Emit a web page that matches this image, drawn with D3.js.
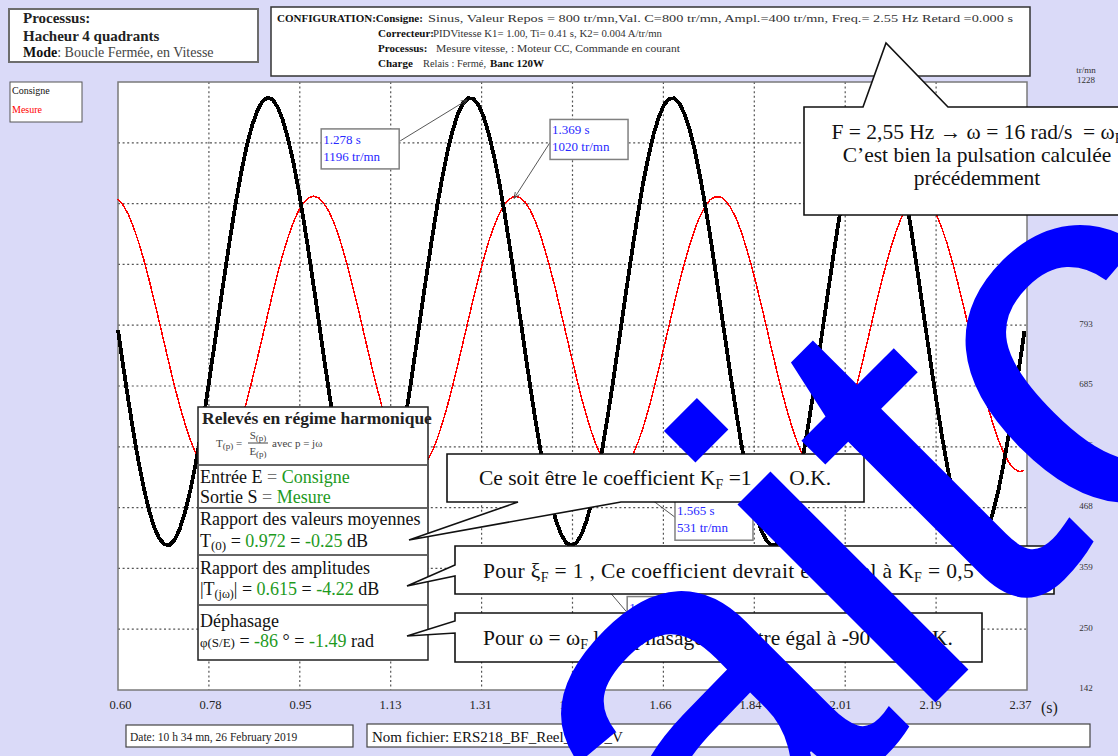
<!DOCTYPE html>
<html><head><meta charset="utf-8">
<script src="https://cdn.jsdelivr.net/npm/d3@7"></script>
<style>
body{margin:0;background:#dadaf8;}
svg{display:block;font-family:"Liberation Serif","Times New Roman",serif;}
</style></head><body>
<svg id="chart" width="1118" height="756"></svg>
<script>
// Sample clock of the acquisition (s)
const sampleStart = 0.60, sampleStep = 0.01;

// Consigne (set-point speed, tr/mn), one value per sample
const consigne = [785,721,660,602,549,503,464,433,413,402,
401,410,430,459,497,542,594,651,713,776,
840,903,963,1019,1070,1114,1149,1176,1193,1200,
1197,1183,1160,1127,1087,1038,984,925,863,799,
735,673,614,560,512,472,439,416,403,400,
407,425,452,488,531,582,638,699,762,826,
889,950,1008,1059,1105,1142,1171,1190,1199,1198,
1187,1166,1135,1096,1050,997,938,877,813,749,
687,627,572,522,480,446,421,405,400,405,
420,445,479,521,570,626,685,748,812,875,
937,995,1049,1095,1135,1165,1187,1198,1199,1190,
1171,1143,1106,1060,1009,952,891,827,763,700,
640,583,532,488,452,425,408,400,403,416,
439,471,511,559,613,672,734,798,861,924,
983,1037,1085,1127,1159,1183,1196,1200,1193,1176,
1150,1114,1071,1021,965,904,841,777,714,653,
595,543,497,460,430,411,401,402,412,433,
463,501,548,601,658,720,783];

// Mesure (measured speed, tr/mn)
const mesure = [1019,1008,992,969,942,911,876,839,800,761,
722,684,649,618,590,567,549,538,532,533,
540,554,572,597,626,658,694,732,771,810,
849,886,920,950,976,997,1012,1021,1024,1021,
1011,996,975,949,918,884,847,809,769,730,
692,657,624,596,572,553,540,533,533,538,
550,568,591,619,651,686,724,763,802,841,
878,912,944,970,992,1009,1019,1024,1022,1014,
1000,980,955,925,892,856,817,778,739,701,
664,631,601,576,557,542,534,532,536,547,
563,585,612,643,678,715,754,793,832,870,
905,937,965,988,1006,1018,1023,1023,1016,1003,
985,961,932,900,864,826,787,747,709,672,
638,608,582,560,545,535,532,535,544,559,
580,606,636,670,707,745,784,824,862,897,
930,959,983,1002,1016,1023,1024,1018,1007,989,
966,939,907,872,834,796,756,717,680,645,
614,587,565,548,537,532,534];

// Axes
const timeTicks = [0.60,0.7765,0.953,1.1295,1.306,1.4825,1.659,1.8355,2.012,2.1885,2.365];
const timeTickLabels = ["0.60","0.78","0.95","1.13","1.31","1.48","1.66","1.84","2.01","2.19","2.37"];
const speedTicks = [142,250.6,359.2,467.8,576.4,685,793.6,902.2,1010.8,1119.4,1228];
const speedTickLabels = ["142","250","359","468","576","685","793","902","1011","1119","1228"];

// Cursor readouts (time s, speed tr/mn)
const cursorTimes = [1.278, 1.369, 1.565, 1.478];
const cursorSpeeds = [1196, 1020, 531, 400];

const svg = d3.select("#chart");
const GREEN = "#1e9a1e";

const x = d3.scaleLinear().domain([0.60, 2.365]).range([118, 1027]);
const xLab = d3.scaleLinear().domain([0.60, 2.365]).range([120, 1020]);
const y = d3.scaleLinear().domain([142, 1228]).range([690, 82]);

// helper: text made of styled runs (with subscripts)
function rich(g, px, py, parts, o = {}) {
  const t = g.append("text").attr("x", px).attr("y", py)
    .attr("font-size", o.size || 14).attr("fill", o.fill || "#111")
    .attr("text-anchor", o.anchor || "start");
  if (o.weight) t.attr("font-weight", o.weight);
  if (o.spacing) t.attr("letter-spacing", o.spacing);
  let shift = 0;
  parts.forEach(p => {
    const s = t.append("tspan").text(p.t);
    const target = p.sub || 0;
    if (target !== shift) s.attr("dy", target - shift);
    shift = target;
    if (p.fill) s.attr("fill", p.fill);
    if (p.bold) s.attr("font-weight", "bold");
    if (p.size) s.attr("font-size", p.size);
  });
  return t;
}
// plain text squeezed/stretched to a given width
function fitted(g, px, py, str, width, size, fill) {
  return g.append("text").attr("x", px).attr("y", py).attr("font-size", size)
    .attr("fill", fill || "#333").attr("textLength", width).attr("lengthAdjust", "spacingAndGlyphs").text(str);
}

// ---------- header boxes ----------
svg.append("rect").attr("x", 9).attr("y", 9).attr("width", 249).attr("height", 53)
  .attr("fill", "#fff").attr("stroke", "#6d6d6d").attr("stroke-width", 2);
svg.append("text").attr("x", 23).attr("y", 23).attr("font-size", 15).attr("font-weight", "bold").attr("fill", "#222").text("Processus:");
svg.append("text").attr("x", 23).attr("y", 41).attr("font-size", 15).attr("font-weight", "bold").attr("fill", "#222").text("Hacheur 4 quadrants");
rich(svg, 23, 57, [{t: "Mode", bold: true}, {t: ": Boucle Fermée, en Vitesse", fill: "#444"}], {size: 14});

svg.append("rect").attr("x", 271).attr("y", 7).attr("width", 759).attr("height", 69)
  .attr("fill", "#fff").attr("stroke", "#333").attr("stroke-width", 1.5);
const cfg = svg.append("g");
cfg.append("text").attr("x", 277).attr("y", 22).attr("font-size", 11).attr("font-weight", "bold").attr("fill", "#111")
  .text("CONFIGURATION:Consigne:");
fitted(cfg, 428, 22, "Sinus, Valeur Repos = 800 tr/mn,Val. C=800 tr/mn, Ampl.=400 tr/mn, Freq.= 2.55 Hz Retard =0.000 s", 585, 11);
cfg.append("text").attr("x", 378).attr("y", 37).attr("font-size", 11).attr("font-weight", "bold").attr("fill", "#111").text("Correcteur:");
fitted(cfg, 433, 37, "PIDVitesse K1= 1.00, Ti= 0.41 s, K2= 0.004 A/tr/mn", 229, 11);
cfg.append("text").attr("x", 378).attr("y", 52).attr("font-size", 11).attr("font-weight", "bold").attr("fill", "#111").text("Processus:");
fitted(cfg, 436, 52, "Mesure vitesse, : Moteur CC, Commande en courant", 244, 11);
cfg.append("text").attr("x", 378).attr("y", 67).attr("font-size", 11).attr("font-weight", "bold").attr("fill", "#111").text("Charge");
fitted(cfg, 423, 67, "Relais : Fermé,", 63, 11);
cfg.append("text").attr("x", 490).attr("y", 67).attr("font-size", 11).attr("font-weight", "bold").attr("fill", "#111").text("Banc 120W");

// legend
svg.append("rect").attr("x", 10).attr("y", 82).attr("width", 72).attr("height", 40)
  .attr("fill", "#fff").attr("stroke", "#555").attr("stroke-width", 1);
svg.append("text").attr("x", 12).attr("y", 94).attr("font-size", 10).attr("fill", "#111").text("Consigne");
svg.append("text").attr("x", 12).attr("y", 113).attr("font-size", 10).attr("fill", "#f00").text("Mesure");

// ---------- plot area ----------
svg.append("rect").attr("x", 118).attr("y", 82).attr("width", 909).attr("height", 608)
  .attr("fill", "#fff");

const grid = svg.append("g").attr("stroke", "#555").attr("stroke-width", 1.2).attr("stroke-dasharray", "2,2.6");
grid.selectAll(".gv").data(timeTicks.slice(1, -1)).join("line")
  .attr("x1", d => x(d)).attr("x2", d => x(d)).attr("y1", 82).attr("y2", 690);
grid.selectAll(".gh").data(speedTicks.slice(1, -1)).join("line")
  .attr("y1", d => y(d)).attr("y2", d => y(d)).attr("x1", 118).attr("x2", 1027);

svg.append("rect").attr("x", 118).attr("y", 82).attr("width", 909).attr("height", 608)
  .attr("fill", "none").attr("stroke", "#7a7a7a").attr("stroke-width", 1.5);

const line = d3.line()
  .x((d, i) => x(sampleStart + i * sampleStep))
  .y(d => y(d));

svg.append("path").datum(mesure).attr("d", line)
  .attr("fill", "none").attr("stroke", "#ff0000").attr("stroke-width", 1.5)
  .attr("shape-rendering", "crispEdges");
svg.append("path").datum(consigne).attr("d", line)
  .attr("fill", "none").attr("stroke", "#000").attr("stroke-width", 3.8)
  .attr("stroke-linejoin", "round").attr("shape-rendering", "crispEdges");

// axis labels
const xAxis = d3.axisBottom(xLab).tickValues(timeTicks)
  .tickFormat((d, i) => timeTickLabels[i]).tickSize(0).tickPadding(0);
const gx = svg.append("g").attr("transform", "translate(0,700)").call(xAxis);
gx.select(".domain").remove();
gx.selectAll("text").attr("font-family", "Liberation Serif").attr("font-size", 12.5).attr("fill", "#222");
svg.append("text").attr("x", 1041).attr("y", 713).attr("font-size", 16).attr("fill", "#222").text("(s)");

const yAxis = d3.axisRight(y).tickValues(speedTicks)
  .tickFormat((d, i) => speedTickLabels[i]).tickSize(0).tickPadding(0);
const gy = svg.append("g").attr("transform", "translate(1086,0)").call(yAxis);
gy.select(".domain").remove();
gy.selectAll("text").attr("font-family", "Liberation Serif").attr("font-size", 9)
  .attr("fill", "#333").attr("text-anchor", "middle").attr("dy", "0.1em");
svg.append("text").attr("x", 1086).attr("y", 73).attr("font-size", 9).attr("fill", "#333")
  .attr("text-anchor", "middle").text("tr/mn");

// ---------- cursor readouts ----------
svg.append("defs").append("marker").attr("id", "arr").attr("viewBox", "0 0 10 10")
  .attr("refX", 10).attr("refY", 5).attr("markerWidth", 7).attr("markerHeight", 7)
  .attr("orient", "auto").append("path").attr("d", "M0,1L10,5L0,9").attr("fill", "none")
  .attr("stroke", "#444").attr("stroke-width", 1.3);

const boxOffsets = [[-146, 29, 79, 12], [36, -79, 0, 23], [60, 28, 0, 17], [57, 51, 0, 16]];
cursorTimes.forEach((t, i) => {
  const px = x(t), py = y(cursorSpeeds[i]);
  const [dx, dy, ax, ay] = boxOffsets[i];
  const bx = px + dx, by = py + dy;
  svg.append("line").attr("x1", bx + ax).attr("y1", by + ay).attr("x2", px).attr("y2", py)
    .attr("stroke", "#444").attr("stroke-width", 0.9).attr("marker-end", "url(#arr)");
  svg.append("rect").attr("x", bx).attr("y", by).attr("width", 78).attr("height", 40)
    .attr("fill", "#fff").attr("stroke", "#808080").attr("stroke-width", 1.5);
  svg.append("text").attr("x", bx + 2).attr("y", by + 15).attr("font-size", 13).attr("fill", "#2828ff")
    .text(t.toFixed(3) + " s");
  svg.append("text").attr("x", bx + 2).attr("y", by + 32).attr("font-size", 13).attr("fill", "#2828ff")
    .text(cursorSpeeds[i] + " tr/mn");
});

// ---------- harmonic-regime table ----------
const tb = svg.append("g");
tb.append("rect").attr("x", 198).attr("y", 407).attr("width", 230).attr("height", 253)
  .attr("fill", "#fff").attr("stroke", "#222").attr("stroke-width", 1.5);
[465, 508, 555, 605].forEach(v => tb.append("line").attr("x1", 199).attr("x2", 427)
  .attr("y1", v).attr("y2", v).attr("stroke", "#666").attr("stroke-width", 2.2));
tb.append("text").attr("x", 202).attr("y", 424).attr("font-size", 17.5).attr("font-weight", "bold")
  .attr("fill", "#222").text("Relevés en régime harmonique");
rich(tb, 216, 447, [{t: "T"}, {t: "(p)", sub: 2, size: 9}, {t: " =", sub: 0}], {size: 11, fill: "#444"});
rich(tb, 258, 439, [{t: "S"}, {t: "(p)", sub: 2, size: 9}], {size: 11, fill: "#444", anchor: "middle"});
tb.append("line").attr("x1", 248).attr("x2", 268).attr("y1", 443).attr("y2", 443).attr("stroke", "#444");
rich(tb, 258, 455, [{t: "E"}, {t: "(p)", sub: 2, size: 9}], {size: 11, fill: "#444", anchor: "middle"});
tb.append("text").attr("x", 272).attr("y", 447).attr("font-size", 11).attr("fill", "#444").text("avec p = jω");

rich(tb, 200, 483, [{t: "Entrée E "}, {t: "=", fill: "#777"}, {t: " Consigne", fill: GREEN}], {size: 18});
rich(tb, 200, 503, [{t: "Sortie S "}, {t: "=", fill: "#777"}, {t: " Mesure", fill: GREEN}], {size: 18});
rich(tb, 200, 525, [{t: "Rapport des valeurs moyennes"}], {size: 18});
rich(tb, 200, 547, [{t: "T"}, {t: "(0)", sub: 3, size: 13}, {t: " = ", sub: 0}, {t: "0.972", fill: GREEN},
  {t: " = "}, {t: "-0.25", fill: GREEN}, {t: " dB"}], {size: 18});
rich(tb, 200, 574, [{t: "Rapport des amplitudes"}], {size: 18});
rich(tb, 200, 595, [{t: "|T"}, {t: "(jω)", sub: 3, size: 12}, {t: "| = ", sub: 0}, {t: "0.615", fill: GREEN},
  {t: " = "}, {t: "-4.22", fill: GREEN}, {t: " dB"}], {size: 18});
rich(tb, 200, 627, [{t: "Déphasage"}], {size: 18});
rich(tb, 200, 647, [{t: "φ(S/E)", size: 13}, {t: " = "}, {t: "-86", fill: GREEN}, {t: " ° = "},
  {t: "-1.49", fill: GREEN}, {t: " rad"}], {size: 18});

// ---------- comment callouts ----------
function callout(pts) {
  svg.append("path").attr("d", d3.line()(pts) + "Z")
    .attr("fill", "#fff").attr("stroke", "#111").attr("stroke-width", 1.6);
}
const CS = 21.5;
callout([[804,107],[863,107],[886,43],[948,107],[1150,107],[1150,215],[804,215]]);
rich(svg, 977, 139, [{t: "F = 2,55 Hz → ω = 16 rad/s \u00a0= ω"}, {t: "F", sub: 4, size: 14}], {size: CS, anchor: "middle"});
svg.append("text").attr("x", 977).attr("y", 162).attr("font-size", CS).attr("text-anchor", "middle")
  .attr("fill", "#111").text("C’est bien la pulsation calculée");
svg.append("text").attr("x", 977).attr("y", 185).attr("font-size", CS).attr("text-anchor", "middle")
  .attr("fill", "#111").text("précédemment");

callout([[447,454],[864,454],[864,502],[621,502],[409,540],[518,502],[447,502]]);
rich(svg, 655, 485, [{t: "Ce soit être le coefficient K"}, {t: "F", sub: 4, size: 14},
  {t: " =1 \u00a0→ O.K.", sub: 0}], {size: CS, anchor: "middle"});

callout([[455,546],[1054,546],[1054,594],[455,594],[455,576],[407,586],[455,565]]);
rich(svg, 483, 578, [{t: "Pour ξ"}, {t: "F", sub: 4, size: 14}, {t: " = 1 , Ce coefficient devrait être égal à K", sub: 0},
  {t: "F", sub: 4, size: 14}, {t: " = 0,5 \u00a0→ O.K.", sub: 0}], {size: CS, spacing: 0.35});

callout([[455,613],[982,613],[982,662],[455,662],[455,633],[407,636],[455,621]]);
rich(svg, 718, 645, [{t: "Pour ω = ω"}, {t: "F", sub: 4, size: 14}, {t: " le déphasage doit être égal à -90° → O.K.", sub: 0}],
  {size: CS, anchor: "middle"});

// ---------- footer ----------
svg.append("rect").attr("x", 126).attr("y", 725).attr("width", 227).attr("height", 22)
  .attr("fill", "#fff").attr("stroke", "#444").attr("stroke-width", 1.2);
svg.append("text").attr("x", 130).attr("y", 741).attr("font-size", 11.5).attr("fill", "#222")
  .text("Date: 10 h 34 mn, 26 February 2019");
svg.append("rect").attr("x", 367).attr("y", 724).attr("width", 723).attr("height", 23)
  .attr("fill", "#fff").attr("stroke", "#444").attr("stroke-width", 1.2);
svg.append("text").attr("x", 372).attr("y", 742).attr("font-size", 15).attr("fill", "#111")
  .text("Nom fichier: ERS218_BF_Reel_Sinus_V");

// ---------- overprinted stamp ----------
const stamp = svg.append("text").attr("transform", "translate(702,936) rotate(-45)")
  .attr("font-family", "Liberation Sans, Arial, sans-serif").attr("font-size", 530)
  .attr("fill", "#0000ff");
stamp.append("tspan").text("ait");
stamp.append("tspan").attr("dx", -12).attr("dy", 20).text("c");
</script>
</body></html>
